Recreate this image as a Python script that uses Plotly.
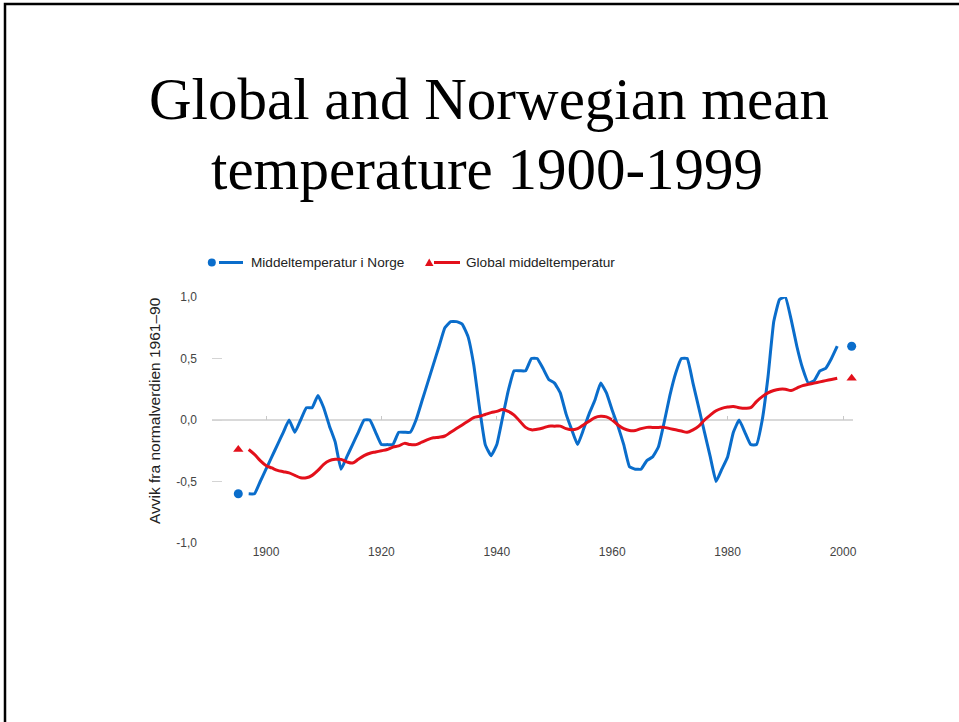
import plotly.graph_objects as go

# ---------------- data ----------------
years = list(range(1897, 2000))

norway = [
    -0.6, -0.6, -0.5, -0.4, -0.3, -0.2, -0.1, 0.0, -0.1, 0.0,        # 1897-1906
    0.1, 0.1, 0.2, 0.1, -0.05, -0.18, -0.4, -0.3, -0.2, -0.1,        # 1907-1916
    0.0, 0.0, -0.1, -0.2, -0.2, -0.2, -0.1, -0.1, -0.1, 0.0,         # 1917-1926
    0.15, 0.3, 0.45, 0.6, 0.75, 0.8, 0.8, 0.78, 0.68, 0.45,          # 1927-1936
    0.1, -0.2, -0.29, -0.2, 0.02, 0.24, 0.4, 0.4, 0.4, 0.5,          # 1937-1946
    0.5, 0.42, 0.33, 0.3, 0.22, 0.05, -0.08, -0.2, -0.08, 0.05,      # 1947-1956
    0.16, 0.3, 0.22, 0.08, -0.05, -0.2, -0.38, -0.4, -0.4, -0.33,    # 1957-1966
    -0.3, -0.22, -0.02, 0.2, 0.38, 0.5, 0.5, 0.3, 0.1, -0.1,         # 1967-1976
    -0.3, -0.5, -0.4, -0.3, -0.1, 0.0, -0.1, -0.2, -0.2, 0.0,        # 1977-1986
    0.35, 0.8, 0.98, 1.0, 0.82, 0.6, 0.42, 0.3, 0.32, 0.4,           # 1987-1996
    0.42, 0.5, 0.6,                                                  # 1997-1999
]

global_t = [
    -0.24, -0.28, -0.33, -0.37, -0.39, -0.41, -0.42, -0.43, -0.45, -0.47,   # 1897-1906
    -0.47, -0.45, -0.41, -0.36, -0.33, -0.32, -0.32, -0.34, -0.35, -0.32,   # 1907-1916
    -0.29, -0.27, -0.26, -0.25, -0.24, -0.22, -0.21, -0.19, -0.2, -0.2,     # 1917-1926
    -0.18, -0.16, -0.145, -0.14, -0.13, -0.1, -0.07, -0.04, -0.01, 0.02,    # 1927-1936
    0.03, 0.045, 0.06, 0.07, 0.085, 0.07, 0.04, -0.01, -0.06, -0.08,        # 1937-1946
    -0.075, -0.065, -0.05, -0.05, -0.05, -0.07, -0.08, -0.07, -0.04, -0.01, # 1947-1956
    0.02, 0.03, 0.025, 0.0, -0.04, -0.07, -0.085, -0.085, -0.07, -0.06,     # 1957-1966
    -0.06, -0.06, -0.06, -0.07, -0.08, -0.09, -0.1, -0.08, -0.05, 0.0,      # 1967-1976
    0.04, 0.075, 0.095, 0.105, 0.11, 0.1, 0.095, 0.1, 0.15, 0.19,           # 1977-1986
    0.22, 0.24, 0.25, 0.25, 0.24, 0.26, 0.28, 0.29, 0.3, 0.31,              # 1987-1996
    0.32, 0.33, 0.34,                                                       # 1997-1999
]

series_names = ["Middeltemperatur i Norge", "Global middeltemperatur"]
x_tickvals = [1900, 1920, 1940, 1960, 1980, 2000]
y_tickvals = [-1.0, -0.5, 0.0, 0.5, 1.0]
y_ticktext = ["-1,0", "-0,5", "0,0", "0,5", "1,0"]
y_title = "Avvik fra normalverdien 1961–90"
title_lines = ["Global and Norwegian mean", "temperature 1900-1999"]

BLUE = "#0a6dcb"
RED = "#e3101b"

# --------------- geometry helpers (screen pixel -> paper) ---------------
W, H = 959, 722
L, R, T, B = 212, 853, 297, 543   # plot area in pixels


def px(x):
    return (x - L) / (R - L)


def py(y):
    return (B - y) / (B - T)


fig = go.Figure()

fig.add_trace(go.Scatter(
    x=years, y=norway, mode="lines", name=series_names[0],
    line=dict(color=BLUE, width=3, shape="spline", smoothing=0.35),
    cliponaxis=False, showlegend=False,
))
fig.add_trace(go.Scatter(
    x=years, y=global_t, mode="lines", name=series_names[1],
    line=dict(color=RED, width=3, shape="spline", smoothing=1.0),
    cliponaxis=False, showlegend=False,
))

# end-point value markers (placed just outside the line ends)
fig.add_trace(go.Scatter(
    x=[years[0] - 1.8, years[-1] + 2.5], y=[norway[0], norway[-1]],
    mode="markers", marker=dict(symbol="circle", size=9, color=BLUE),
    cliponaxis=False, showlegend=False,
))
fig.add_trace(go.Scatter(
    x=[years[0] - 1.8, years[-1] + 2.5], y=[global_t[0], global_t[-1]],
    mode="markers", marker=dict(symbol="triangle-up", size=9, color=RED),
    cliponaxis=False, showlegend=False,
))

x0 = 1900 + (L - 266) / 5.77
x1 = 1900 + (R - 266) / 5.77

shapes = []
annotations = []

# slide frame (top and left edges)
shapes.append(dict(
    type="path", xref="paper", yref="paper",
    path=f"M {px(5)},{py(740)} L {px(5)},{py(4)} L {px(975)},{py(4)}",
    line=dict(color="black", width=2.5),
))

# manual legend
shapes.append(dict(type="line", xref="paper", yref="paper",
                   x0=px(219), x1=px(243), y0=py(262.5), y1=py(262.5),
                   line=dict(color=BLUE, width=3)))
shapes.append(dict(type="circle", xref="paper", yref="paper",
                   x0=px(207.8), x1=px(215.8), y0=py(266.5), y1=py(258.5),
                   fillcolor=BLUE, line=dict(width=0)))
shapes.append(dict(type="line", xref="paper", yref="paper",
                   x0=px(434), x1=px(460), y0=py(262.5), y1=py(262.5),
                   line=dict(color=RED, width=3)))
shapes.append(dict(type="path", xref="paper", yref="paper",
                   path=f"M {px(425)},{py(266)} L {px(433.5)},{py(266)} L {px(429.2)},{py(258.5)} Z",
                   fillcolor=RED, line=dict(width=0)))

legend_font = dict(family="Liberation Sans, Arial, sans-serif", size=13.6, color="#222222")
annotations.append(dict(text=series_names[0], xref="paper", yref="paper",
                        x=px(249), y=py(262.5), xanchor="left", yanchor="middle",
                        showarrow=False, font=legend_font))
annotations.append(dict(text=series_names[1], xref="paper", yref="paper",
                        x=px(464), y=py(262.5), xanchor="left", yanchor="middle",
                        showarrow=False, font=legend_font))

# slide title
title_font = dict(family="Liberation Serif, Times New Roman, serif", size=59, color="black")
annotations.append(dict(text=title_lines[0], xref="paper", yref="paper",
                        x=px(489), y=py(99), xanchor="center", yanchor="middle",
                        showarrow=False, font=title_font))
annotations.append(dict(text=title_lines[1], xref="paper", yref="paper",
                        x=px(487), y=py(169), xanchor="center", yanchor="middle",
                        showarrow=False, font=title_font))

# y axis title
annotations.append(dict(text=y_title, xref="paper", yref="paper",
                        x=px(154), y=py(411), xanchor="center", yanchor="middle",
                        textangle=-90, showarrow=False,
                        font=dict(family="Liberation Sans, Arial, sans-serif", size=15.5, color="#222222")))

tick_font = dict(family="Liberation Sans, Arial, sans-serif", size=12, color="#444444")

fig.update_layout(
    width=W, height=H,
    margin=dict(l=L, r=W - R, t=T, b=H - B, pad=0),
    paper_bgcolor="white", plot_bgcolor="white",
    showlegend=False,
    shapes=shapes, annotations=annotations,
    xaxis=dict(range=[x0, x1], tickvals=x_tickvals, ticks="", showgrid=False,
               zeroline=False, showline=False, tickfont=tick_font, ticklabelstandoff=0),
    xaxis2=dict(range=[x0, x1], overlaying="x", matches="x", anchor="free", position=0.5,
                side="bottom", tickvals=x_tickvals, ticks="inside", ticklen=4, tickwidth=1,
                tickcolor="#c8c8c8", showticklabels=False, showgrid=False,
                zeroline=False, showline=False),
    yaxis=dict(range=[-1.0, 1.0], tickvals=y_tickvals, ticktext=y_ticktext,
               ticks="inside", ticklen=10, tickwidth=1, tickcolor="#d4d4d4",
               showgrid=False, zeroline=True, zerolinecolor="#d9d9d9", zerolinewidth=2,
               showline=False, tickfont=tick_font, ticklabelstandoff=14),
)

# invisible trace to activate the second x axis
fig.add_trace(go.Scatter(x=[x_tickvals[0]], y=[0], xaxis="x2", mode="markers",
                         marker=dict(opacity=0), hoverinfo="skip", showlegend=False))

# remove the default page margin so the figure fills the window exactly
fig.write_html("out.html", config={"displayModeBar": False},
               post_script="document.body.style.margin='0';")
